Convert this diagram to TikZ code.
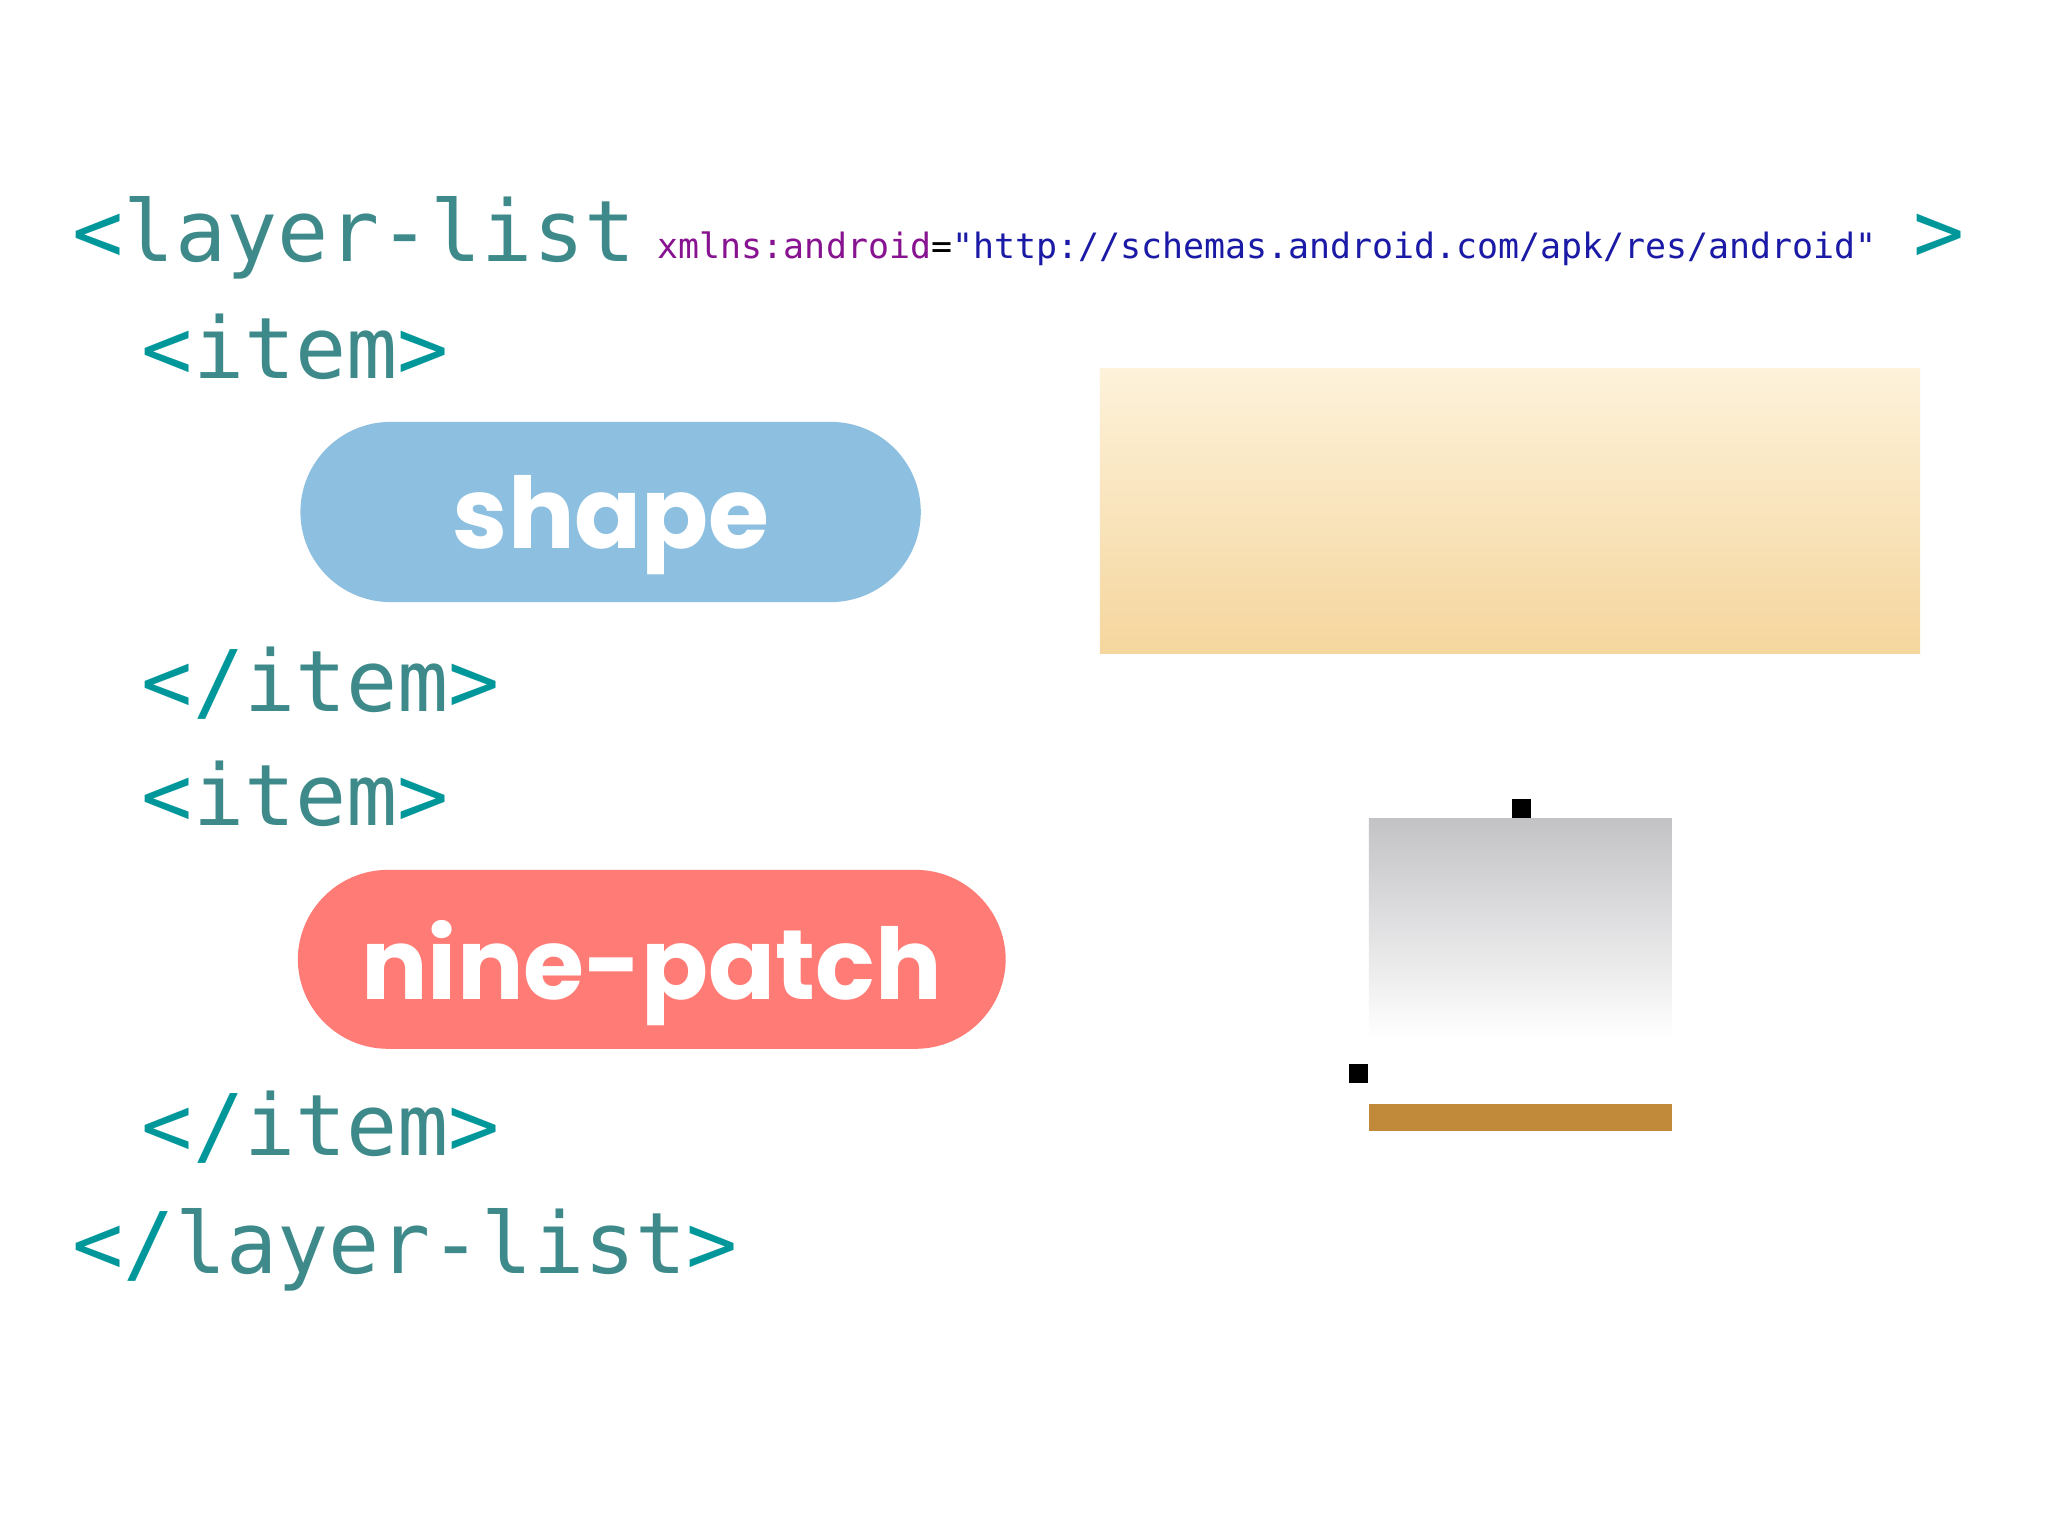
\documentclass[tikz,border=0pt]{standalone}
\usepackage{fontspec}
\setmonofont{DejaVu Sans Mono}
\newfontfamily\pillfont{Poppins}
\definecolor{tealA}{HTML}{3E8A8A}
\definecolor{tealB}{HTML}{00979A}
\definecolor{attr}{HTML}{881391}
\definecolor{strc}{HTML}{1A1AA6}
\definecolor{bluepill}{HTML}{8DC0E0}
\definecolor{redpill}{HTML}{FF7B76}
\definecolor{creamT}{HTML}{FDF2DA}
\definecolor{creamB}{HTML}{F5D69E}
\definecolor{grayT}{HTML}{C3C2C5}
\definecolor{brown}{HTML}{C18A3A}
\tikzset{
  code/.style={anchor=base west,inner sep=0pt,font=\ttfamily\fontsize{18.5}{20}\selectfont,text=tealA},
  small/.style={anchor=base west,inner sep=0pt,font=\ttfamily\fontsize{7.6}{9}\selectfont},
  pill/.style={rounded corners=0.69cm,draw=none},
  pilltext/.style={inner sep=0pt,text=white,font=\pillfont\bfseries\fontsize{21.5}{24}\selectfont},
}
\begin{document}
\begin{tikzpicture}[x=0.01cm,y=-0.01cm]
\useasboundingbox (0,0) rectangle (1568,1176);
\fill[white] (0,0) rectangle (1568,1176);
\node[code] (ll) at (55,200) {\textcolor{tealB}{<}layer-list};
\node[small] (ns) at (503,198) {\textcolor{attr}{xmlns:android}=\textcolor{strc}{"http://schemas.android.com/apk/res/android"}};
\node[code,text=tealB] (gt) at (1464,200) {>};
\node[code] (i1) at (108,290) {\textcolor{tealB}{<}item\textcolor{tealB}{>}};
\fill[bluepill,pill] (230,323) rectangle (705,461);
\node[pilltext,anchor=base] (shape) at (468,420) {shape};
\node[code] (c1) at (108,545) {\textcolor{tealB}{</}item\textcolor{tealB}{>}};
\node[code] (i2) at (108,632) {\textcolor{tealB}{<}item\textcolor{tealB}{>}};
\fill[redpill,pill] (228,666) rectangle (770,803);
\node[pilltext,anchor=base] (np) at (499,765) {nine-patch};
\node[code] (c2) at (108,885) {\textcolor{tealB}{</}item\textcolor{tealB}{>}};
\node[code] (lle) at (55,975) {\textcolor{tealB}{</}layer-list\textcolor{tealB}{>}};
\shade[top color=creamT,bottom color=creamB] (842,282) rectangle (1470,500);
\shade[top color=grayT,bottom color=white] (1048,627) rectangle (1280,795);
\fill[black] (1158,612) rectangle (1172,626);
\fill[black] (1033,815) rectangle (1047,829);
\fill[brown] (1048,845) rectangle (1280,866);
\end{tikzpicture}
\end{document}
